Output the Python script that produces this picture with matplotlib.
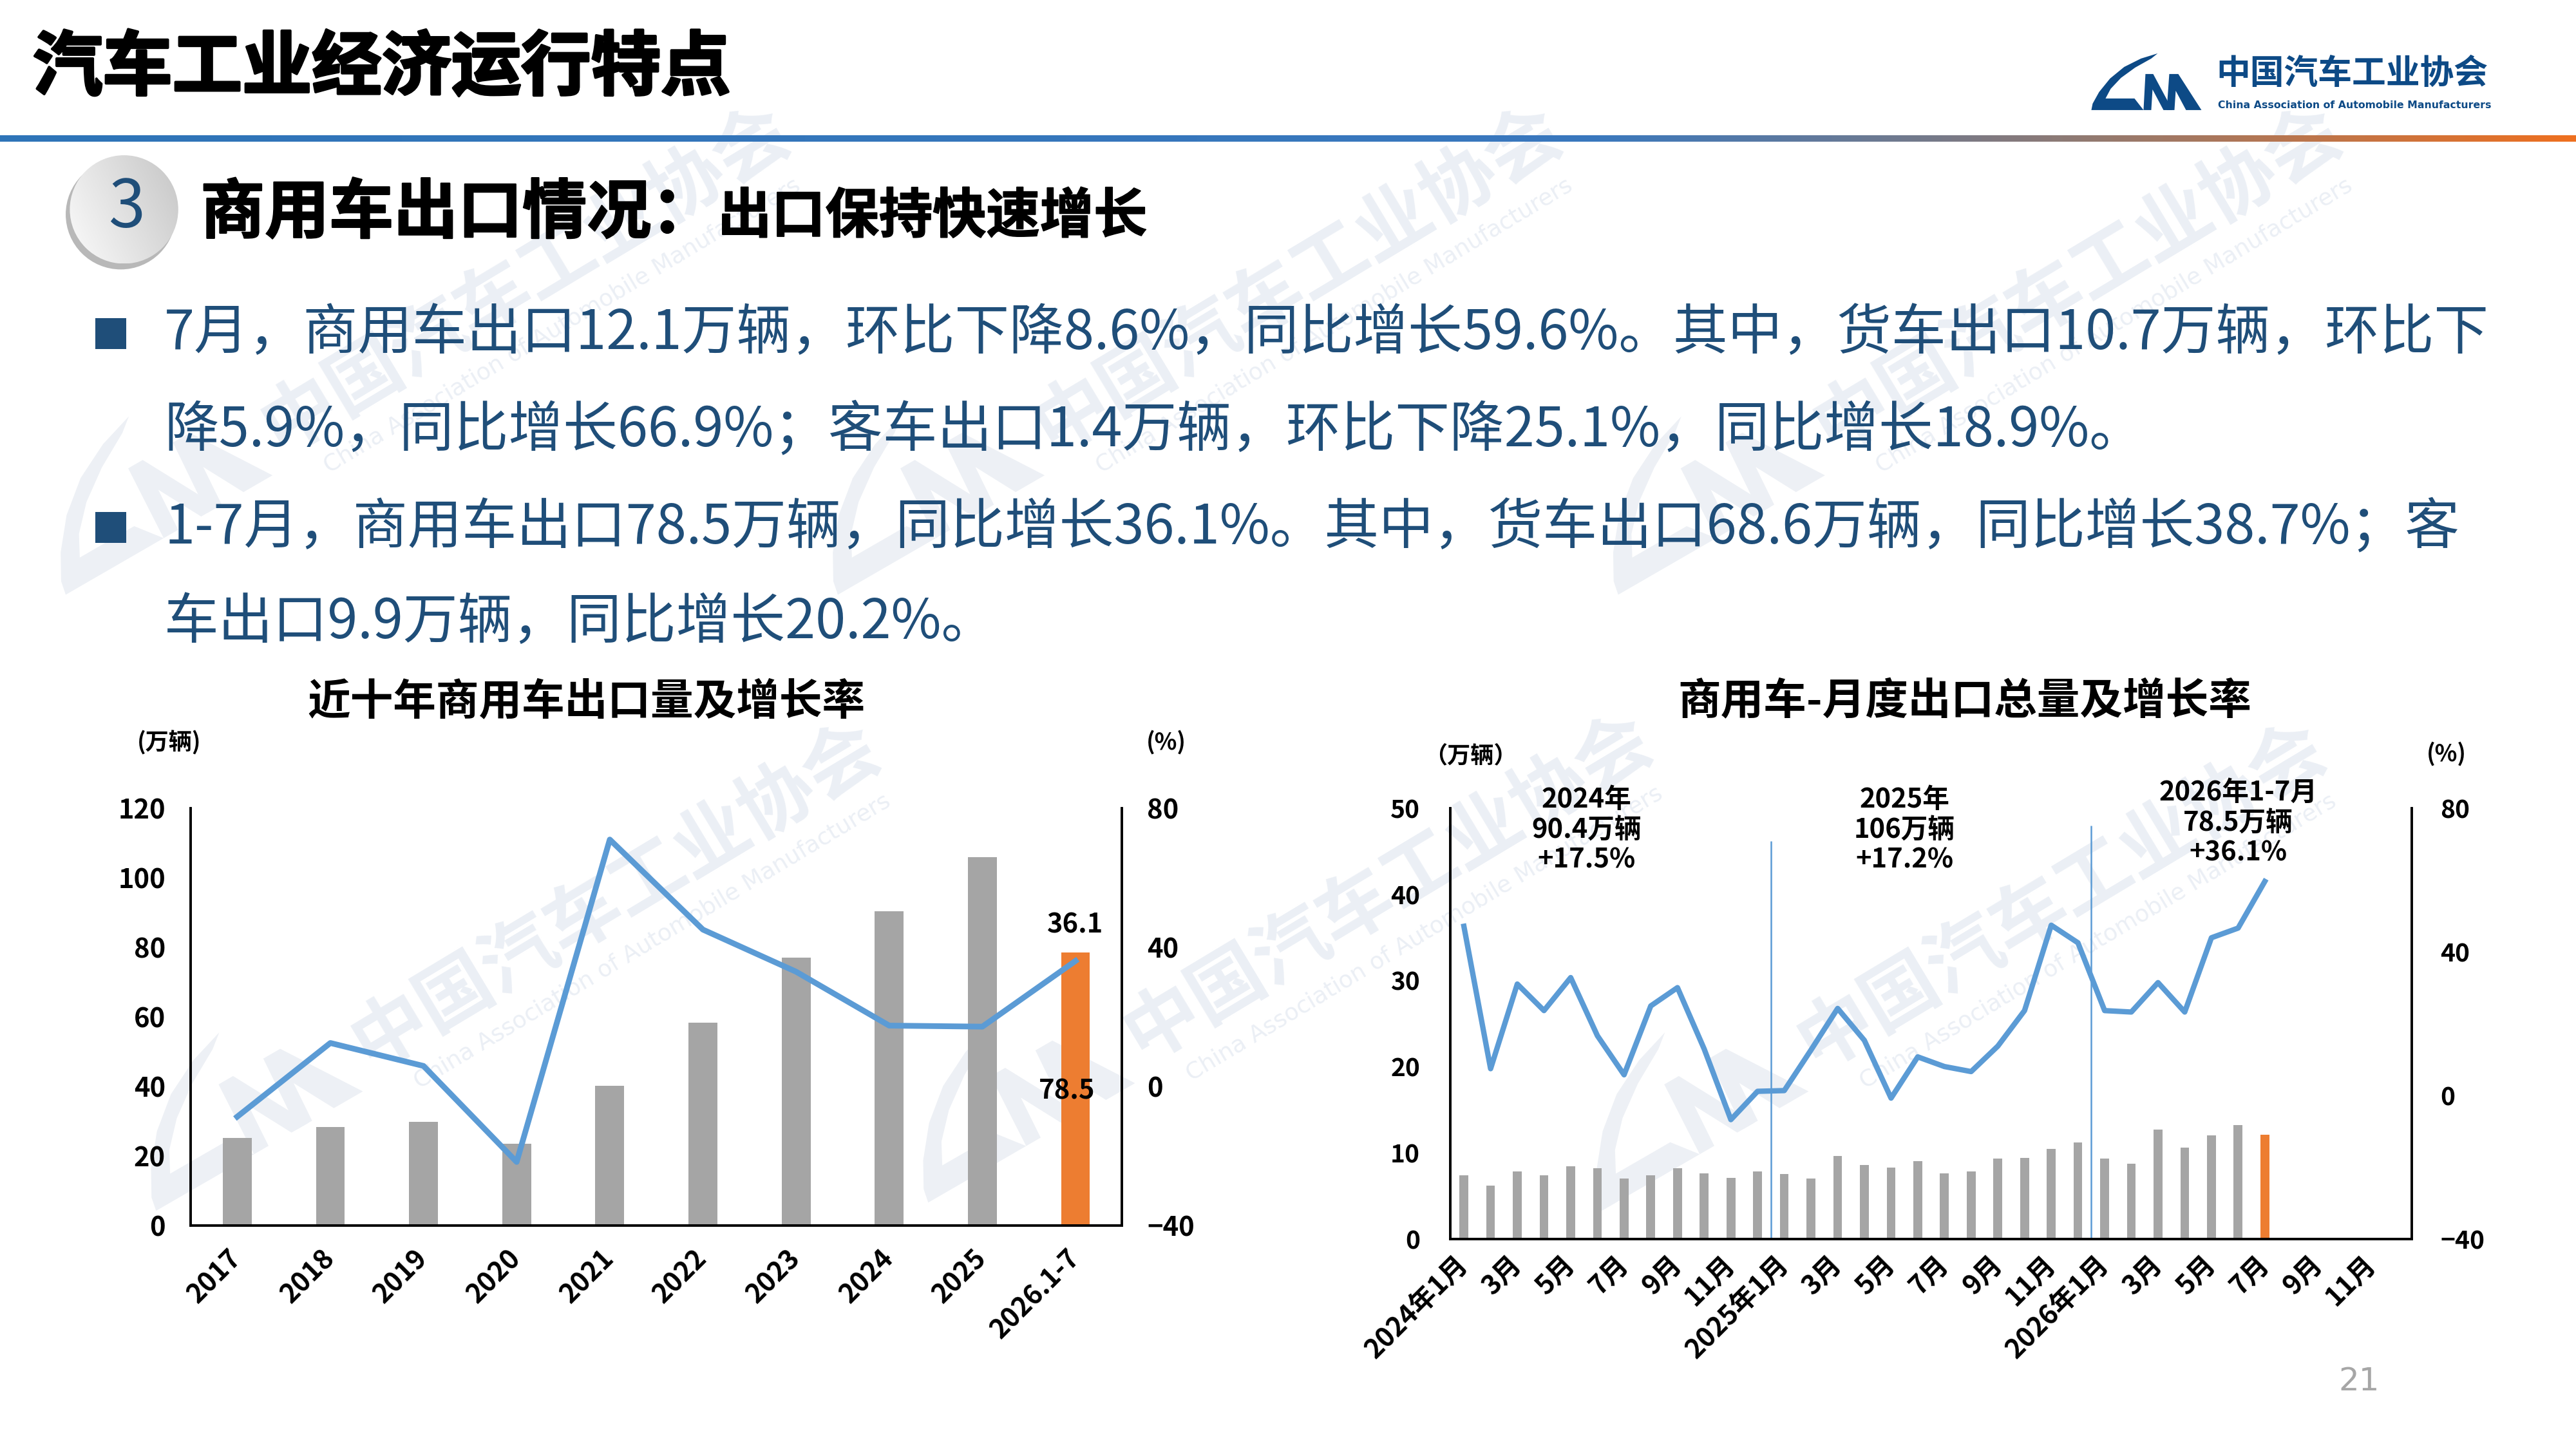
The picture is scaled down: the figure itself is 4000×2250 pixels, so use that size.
import numpy as np
import matplotlib
matplotlib.use('Agg')
import matplotlib.pyplot as plt
import matplotlib.patheffects as pe
from matplotlib.patches import Circle, Polygon, Rectangle
from matplotlib.colors import LinearSegmentedColormap

plt.rcParams['font.family'] = ['Noto Sans CJK SC', 'DejaVu Sans']

# ---- 数据 ----
years = ['2017', '2018', '2019', '2020', '2021', '2022', '2023', '2024', '2025', '2026.1-7']
annual_volume = [25.2, 28.3, 29.9, 23.5, 40.2, 58.3, 77.1, 90.4, 106.0, 78.5]   # 万辆
annual_growth = [-8.7, 12.5, 5.9, -21.7, 71.0, 45.1, 33.0, 17.5, 17.2, 36.1]    # %

month_labels = ['2024年1月', '3月', '5月', '7月', '9月', '11月',
                '2025年1月', '3月', '5月', '7月', '9月', '11月',
                '2026年1月', '3月', '5月', '7月', '9月', '11月']
monthly_volume = [7.4, 6.2, 7.8, 7.4, 8.4, 8.2, 7.0, 7.4, 8.2, 7.6, 7.1, 7.8,
                  7.5, 7.0, 9.6, 8.6, 8.3, 9.0, 7.6, 7.8, 9.3, 9.4, 10.4, 11.2,
                  9.3, 8.7, 12.7, 10.6, 12.0, 13.2, 12.1]
monthly_growth = [47.1, 7.4, 31.0, 23.6, 32.8, 16.6, 5.7, 24.9, 30.0, 12.9, -6.8, 1.1,
                  1.3, 12.6, 24.2, 15.3, -0.8, 10.7, 8.0, 6.6, 13.7, 23.6, 47.4, 42.5,
                  23.6, 23.2, 31.4, 23.2, 43.9, 46.6, 59.6]
year_notes = ['2024年\n90.4万辆\n+17.5%', '2025年\n106万辆\n+17.2%', '2026年1-7月\n78.5万辆\n+36.1%']

bullets = ['7月，商用车出口12.1万辆，环比下降8.6%，同比增长59.6%。其中，货车出口10.7万辆，环比下',
           '降5.9%，同比增长66.9%；客车出口1.4万辆，环比下降25.1%，同比增长18.9%。',
           '1-7月，商用车出口78.5万辆，同比增长36.1%。其中，货车出口68.6万辆，同比增长38.7%；客',
           '车出口9.9万辆，同比增长20.2%。']

GRAY = '#A5A5A5'
ORANGE = '#ED7D31'
LINE = '#5B9BD5'
NAVY = '#1F4E79'
LOGO = '#0D4A86'
WM = '#EBEFF5'


def draw_logo(ax, x0, y0, s, color, z, angle=0.0):
    """简化的协会标志，(x0, y0) 为C形左下角，angle 为逆时针旋转角度"""
    shapes = [
        [(108, 88), (82, 80), (56, 67), (34, 49), (17, 28), (7, 10), (5, 0), (86, 0),
         (72, 18), (27, 18), (35, 33), (51, 50), (73, 66), (98, 80)],
        [(86, 0), (98, 0), (100, 32), (117, 0), (131, 0), (101, 56), (89, 56)],
        [(122, 0), (134, 0), (136, 30), (152, 0), (176, 0), (140, 56), (126, 56)],
    ]
    c, sn = np.cos(np.radians(angle)), np.sin(np.radians(angle))
    for pts in shapes:
        xy = []
        for u, v in pts:
            u -= 5
            ur, vr = u * c - v * sn, u * sn + v * c
            xy.append((x0 + ur * s, y0 - vr * s))
        ax.add_patch(Polygon(xy, closed=True, facecolor=color, edgecolor='none', zorder=z))


fig = plt.figure(figsize=(20, 11.25), dpi=200)
fig.patch.set_facecolor('white')
bg = fig.add_axes([0, 0, 1, 1])
bg.set_xlim(0, 1568)
bg.set_ylim(882, 0)
bg.axis('off')

# 水印
for cx, cy in [(320, 170), (790, 170), (1265, 170), (375, 545), (845, 540), (1255, 545)]:
    bg.text(cx, cy, '中国汽车工业协会', fontsize=42, fontweight='bold', color=WM,
            rotation=31, ha='center', va='center', zorder=0.1)
    bg.text(cx + 22, cy + 28, 'China Association of Automobile Manufacturers', fontsize=13,
            color=WM, rotation=31, ha='center', va='center', family='DejaVu Sans', zorder=0.1)
    draw_logo(bg, cx - 280, cy + 192, 0.85, '#EDF0F5', 0.05, angle=30)

# 页眉
bg.text(20, 42, '汽车工业经济运行特点', fontsize=39, fontweight='heavy', color='black',
        ha='left', va='center',
        path_effects=[pe.withStroke(linewidth=1.4, foreground='black')])
draw_logo(bg, 1273, 67, 0.392, LOGO, 3)
bg.text(1349, 45, '中国汽车工业协会', fontsize=19, fontweight='bold', color=LOGO,
        ha='left', va='center')
bg.text(1350, 64, 'China Association of Automobile Manufacturers', fontsize=5.7,
        fontweight='bold', color=LOGO, ha='left', va='center', family='DejaVu Sans')
cmap_bar = LinearSegmentedColormap.from_list('hdr', [(0, '#2E74B8'), (0.62, '#3A78BE'),
                                                     (0.8, '#8C7A76'), (1, '#EE7020')])
bg.imshow(np.linspace(0, 1, 512).reshape(1, -1), cmap=cmap_bar, aspect='auto',
          extent=(0, 1568, 86.2, 82.6), zorder=2)

# 小节标题
bg.add_patch(Circle((73.5, 130.5), 33.5, facecolor='#B8B8B8', edgecolor='none', zorder=2))
circ = Circle((75.5, 127.5), 33, facecolor='none', edgecolor='none', zorder=3)
bg.add_patch(circ)
gx, gy = np.meshgrid(np.linspace(0, 1, 100), np.linspace(0, 1, 100))
grad = 0.75 * gx + 0.35 * (1 - gy)
cmap_c = LinearSegmentedColormap.from_list('circ', ['#FBFBFB', '#C6C6C6'])
im = bg.imshow(grad, cmap=cmap_c, aspect='auto', origin='upper',
               extent=(42.5, 108.5, 160.5, 94.5), zorder=3)
im.set_clip_path(circ)
bg.text(77, 127, '3', fontsize=37, color=NAVY, ha='center', va='center', zorder=4)
bg.text(122, 130, '商用车出口情况：', fontsize=36, fontweight='bold', color='black',
        ha='left', va='center',
        path_effects=[pe.withStroke(linewidth=0.8, foreground='black')])
bg.text(437, 132, '出口保持快速增长', fontsize=30, fontweight='bold', color='black',
        ha='left', va='center',
        path_effects=[pe.withStroke(linewidth=0.6, foreground='black')])

# 正文要点
for yy in [203, 321]:
    bg.add_patch(Rectangle((58, yy - 9.5), 19, 19, facecolor=NAVY, edgecolor='none'))
for line, yy in zip(bullets, [203, 262, 321, 379]):
    bg.text(100, yy, line, fontsize=30.5, color=NAVY, ha='left', va='center')

# 图表标题与单位
bg.text(357, 427, '近十年商用车出口量及增长率', fontsize=24, fontweight='bold', ha='center', va='center')
bg.text(1196, 427, '商用车-月度出口总量及增长率', fontsize=24, fontweight='bold', ha='center', va='center')
bg.text(103, 452, '(万辆)', fontsize=13, fontweight='bold', ha='center', va='center')
bg.text(710, 452, '(%)', fontsize=13, fontweight='bold', ha='center', va='center')
bg.text(895, 460, '（万辆）', fontsize=13, fontweight='bold', ha='center', va='center')
bg.text(1489, 459, '(%)', fontsize=13, fontweight='bold', ha='center', va='center')
bg.text(1436, 841, '21', fontsize=18, color='#A6A6A6', ha='center', va='center',
        family='DejaVu Sans')


def style_axis(ax, pad):
    ax.spines['top'].set_visible(False)
    for side in ['left', 'right', 'bottom']:
        ax.spines[side].set_linewidth(1.3)
        ax.spines[side].set_color('black')
    ax.tick_params(length=0, labelsize=15, pad=pad)
    for lbl in ax.get_yticklabels():
        lbl.set_fontweight('bold')


# ---- 左图：近十年 ----
ax1 = fig.add_axes([0.074, 0.1542, 0.3616, 0.288])
ax1.set_facecolor('none')
x1 = np.arange(len(years))
ax1.bar(x1, annual_volume, width=0.31, color=[GRAY] * (len(years) - 1) + [ORANGE], zorder=2)
ax1.set_xlim(-0.5, len(years) - 0.5)
ax1.set_ylim(0, 120)
ax1.set_yticks(range(0, 121, 20))
ax1.set_xticks(x1)
ax1.set_xticklabels(years, rotation=45, ha='right', va='center', rotation_mode='anchor',
                    fontsize=15, fontweight='bold')
ax1b = ax1.twinx()
ax1b.plot(x1, annual_growth, color=LINE, lw=3.2, zorder=3)
ax1b.set_ylim(-40, 80)
ax1b.set_yticks([-40, 0, 40, 80])
style_axis(ax1, 14)
style_axis(ax1b, 14)
ax1.tick_params(axis='x', pad=16)
ax1b.text(x1[-1], 46.4, f'{annual_growth[-1]:.1f}', fontsize=15, fontweight='bold',
          ha='center', va='center')
ax1.text(x1[-1] - 0.09, 38.7, f'{annual_volume[-1]:.1f}', fontsize=15, fontweight='bold',
         ha='center', va='center')

# ---- 右图：月度 ----
ax2 = fig.add_axes([0.5631, 0.1451, 0.3731, 0.2971])
ax2.set_facecolor('none')
n_slots = 36
x2 = np.arange(len(monthly_volume))
bar_colors = [GRAY] * (len(monthly_volume) - 1) + [ORANGE]
ax2.bar(x2, monthly_volume, width=0.33, color=bar_colors, zorder=2)
ax2.set_xlim(-0.5, n_slots - 0.5)
ax2.set_ylim(0, 50)
ax2.set_yticks(range(0, 51, 10))
ax2.set_xticks(np.arange(0, n_slots, 2))
ax2.set_xticklabels(month_labels, rotation=45, ha='right', va='center', rotation_mode='anchor',
                    fontsize=14, fontweight='bold')
ax2.vlines([11.5, 23.5], 0, [46.2, 48.0], color=LINE, lw=0.9, zorder=1)
for xx, yy, note in zip([4.6, 16.5, 29.0], [47.5, 47.5, 48.3], year_notes):
    ax2.text(xx, yy, note, fontsize=15, fontweight='bold', ha='center', va='center',
             linespacing=1.15, zorder=5)
ax2b = ax2.twinx()
ax2b.plot(x2, monthly_growth, color=LINE, lw=3.0, zorder=3)
ax2b.set_ylim(-40, 80)
ax2b.set_yticks([-40, 0, 40, 80])
style_axis(ax2, 17)
style_axis(ax2b, 16)
ax2.tick_params(axis='y', labelsize=14)
ax2b.tick_params(axis='y', labelsize=14)
ax2.tick_params(axis='x', pad=12)

fig.savefig('out.png', dpi=200, facecolor='white')
